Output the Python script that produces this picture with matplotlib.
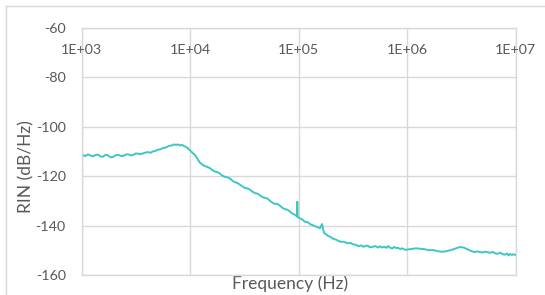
import matplotlib
matplotlib.use("Agg")
import matplotlib.pyplot as plt
from matplotlib.lines import Line2D
import numpy as np

# datos (log10 de frecuencia, RIN en dB/Hz)
log_freq = [3.000, 3.012, 3.035, 3.058, 3.081, 3.104, 3.127, 3.150, 3.173, 3.196,
            3.219, 3.242, 3.265, 3.288, 3.312, 3.335, 3.358, 3.381, 3.404, 3.427,
            3.450, 3.473, 3.496, 3.519, 3.542, 3.565, 3.588, 3.611, 3.634, 3.657,
            3.680, 3.703, 3.726, 3.749, 3.772, 3.795, 3.814, 3.832, 3.850, 3.869,
            3.887, 3.906, 3.925, 3.943, 3.962, 3.980, 4.007, 4.044, 4.090, 4.113,
            4.136, 4.159, 4.182, 4.205, 4.228, 4.251, 4.275, 4.298, 4.321, 4.344,
            4.367, 4.390, 4.413, 4.436, 4.459, 4.482, 4.505, 4.528, 4.551, 4.574,
            4.597, 4.620, 4.643, 4.666, 4.689, 4.712, 4.735, 4.758, 4.782, 4.805,
            4.828, 4.851, 4.874, 4.897, 4.920, 4.943, 4.966, 4.985, 4.987, 4.990,
            5.012, 5.035, 5.058, 5.081, 5.104, 5.127, 5.150, 5.173, 5.196, 5.215,
            5.233, 5.251, 5.270, 5.293, 5.316, 5.348, 5.380, 5.417, 5.454, 5.478,
            5.500, 5.528, 5.551, 5.574, 5.597, 5.611, 5.634, 5.657, 5.685, 5.708,
            5.730, 5.750, 5.768, 5.790, 5.810, 5.825, 5.842, 5.860, 5.880, 5.900,
            5.915, 5.935, 5.955, 5.975, 5.989, 6.035, 6.081, 6.120, 6.164, 6.200,
            6.238, 6.285, 6.330, 6.370, 6.413, 6.450, 6.487, 6.520, 6.551, 6.585,
            6.616, 6.650, 6.690, 6.720, 6.763, 6.790, 6.815, 6.837, 6.860, 6.880,
            6.901, 6.920, 6.935, 6.947, 6.965, 6.980, 7.000]
rin = [-113.0, -111.5, -111.9, -111.2, -111.7, -112.0, -111.5, -111.3, -112.1, -112.2,
       -111.4, -111.6, -112.4, -112.3, -111.6, -111.4, -111.8, -111.9, -111.3, -111.2,
       -111.6, -111.5, -110.9, -110.9, -111.2, -110.8, -110.5, -110.3, -110.6, -110.0,
       -109.8, -109.3, -109.2, -108.6, -108.5, -108.0, -107.7, -107.6, -107.2, -107.4,
       -107.2, -107.6, -107.4, -107.9, -108.2, -108.8, -110.0, -111.5, -114.6, -115.4,
       -116.0, -116.3, -116.8, -117.6, -118.2, -118.4, -119.0, -119.9, -120.3, -120.5,
       -121.0, -121.9, -122.5, -122.8, -123.5, -124.2, -124.8, -125.0, -125.5, -126.3,
       -126.9, -127.1, -127.8, -128.5, -128.8, -129.1, -130.0, -130.8, -131.2, -131.3,
       -132.0, -132.9, -133.4, -133.6, -134.4, -135.2, -135.7, -136.3, -130.4, -136.5,
       -137.1, -137.6, -138.5, -138.6, -139.4, -139.8, -140.3, -140.6, -141.1, -139.4,
       -143.0, -143.5, -144.2, -144.6, -145.3, -145.8, -146.5, -146.6, -147.2, -147.0,
       -147.6, -147.8, -148.4, -148.0, -148.6, -148.3, -148.1, -148.8, -148.6, -148.3,
       -148.9, -148.4, -148.9, -148.6, -149.0, -148.3, -148.9, -149.3, -148.7, -149.1,
       -149.0, -149.5, -149.2, -149.7, -149.8, -149.5, -149.2, -149.4, -149.6, -150.0,
       -149.9, -150.4, -150.6, -150.3, -149.8, -149.2, -148.7, -148.9, -149.5, -150.2,
       -150.7, -150.5, -150.9, -150.6, -151.0, -150.7, -151.3, -151.4, -151.0, -151.6,
       -151.8, -151.3, -152.1, -151.5, -151.9, -151.6, -151.9]

xticks = [1e3, 1e4, 1e5, 1e6, 1e7]
xlabels = ['1E+03', '1E+04', '1E+05', '1E+06', '1E+07']
yticks = [-160, -140, -120, -100, -80, -60]

gris = '#D9D9D9'
texto = '#595959'
plt.rcParams['font.family'] = ['Lato', 'DejaVu Sans']

W, H = 545, 295
fig = plt.figure(figsize=(W / 100, H / 100), dpi=100)

# borde del grafico
fig.add_artist(Line2D([6 / W, 6 / W], [0, 1 - 6 / H], color=gris, lw=1))
fig.add_artist(Line2D([6 / W, 1], [1 - 6 / H, 1 - 6 / H], color=gris, lw=1))

ax = fig.add_axes([81.7 / W, 1 - 275 / H, (515.7 - 81.7) / W, (275 - 27.7) / H])
ax.plot(10 ** np.array(log_freq), rin, color='#3EC6C6', lw=1.4)

ax.set_xscale('log')
ax.set_xlim(1e3, 1e7)
ax.set_ylim(-160, -60)
ax.set_xticks(xticks)
ax.set_xticklabels([])
ax.minorticks_off()
ax.set_yticks(yticks)
ax.set_yticklabels([str(v) for v in yticks])
ax.tick_params(axis='y', length=0, pad=11.5, labelsize=10.3, labelcolor=texto)
ax.tick_params(axis='x', length=0)
ax.grid(True, color=gris, lw=1)
for s in ax.spines.values():
    s.set_color(gris)
    s.set_linewidth(1)

# etiquetas del eje x dentro del area
for f, lab in zip(xticks, xlabels):
    ax.annotate(lab, xy=(f, 1), xycoords=('data', 'axes fraction'),
                xytext=(0, -15.8), textcoords='offset points',
                ha='center', va='center', fontsize=10.3, color=texto)

ax.set_xlabel('Frequency (Hz)', fontsize=12.5, color=texto, va='center')
ax.xaxis.set_label_coords((290.5 - 81.7) / 434, -(284 - 275) / 247.3)
ax.set_ylabel('RIN (dB/Hz)', fontsize=12.5, color=texto, va='center')
ax.yaxis.set_label_coords((26 - 81.7) / 434, (275 - 167) / 247.3)

fig.savefig('out.png', dpi=100)
